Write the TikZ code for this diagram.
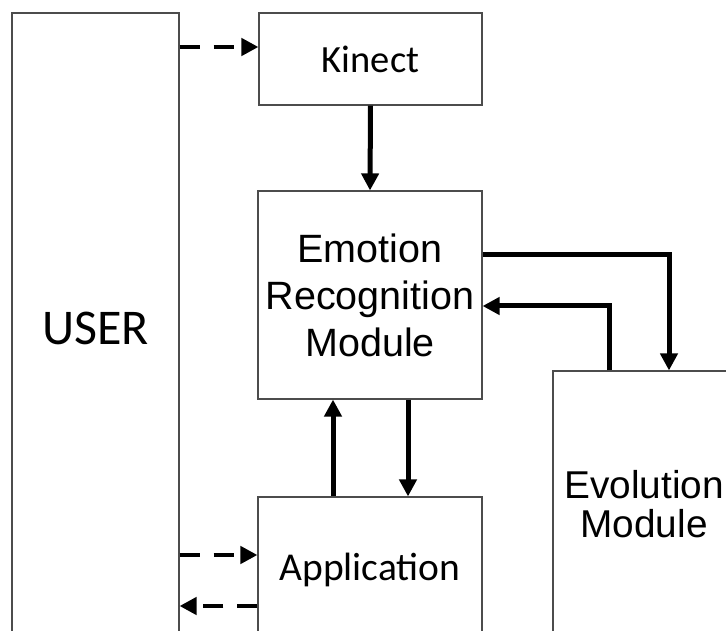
\documentclass[tikz,border=0pt]{standalone}
\usepackage{fontspec}
\setmainfont{Carlito}
\newfontfamily\arialfont{Liberation Sans}
\usetikzlibrary{arrows.meta}
\begin{document}
\begin{tikzpicture}[x=1pt,y=-1pt,>={Triangle[length=17pt,width=17pt]},line join=miter,
	box/.style={draw=black!70,line width=1.1pt,inner sep=0pt,fill=white},
	arr/.style={->,line width=5pt},
	dasharr/.style={->,line width=4.8pt,dash pattern=on 20pt off 14pt}]
			\path[use as bounding box,clip] (0,0) rectangle (726,631);
			\fill[white] (0,0) rectangle (726,631);
			\node[box,minimum width=167pt,minimum height=630pt,font=\fontsize{50}{60}\selectfont] (user) at (95.5,328) {USER};
			\node[box,minimum width=223pt,minimum height=92pt,font=\fontsize{38.5}{46}\selectfont] (kinect) at (370.5,59) {\raisebox{-4pt}{Kinect}};
			\node[box,minimum width=224pt,minimum height=208pt,align=center,font=\arialfont\fontsize{39.5}{47}\selectfont] (emotion) at (370,295) {Emotion\\Recognition\\Module};
			\node[box,minimum width=182pt,minimum height=266pt,align=center,font=\arialfont\fontsize{38.8}{38.4}\selectfont] (evolution) at (644,504) {Evolution\\Module};
			\node[box,minimum width=224pt,minimum height=146pt,font=\fontsize{39.5}{46}\selectfont] (app) at (370,570) {Application};
			\coordinate (kin) at ([yshift=12pt]kinect.west);
			\coordinate (appin) at ([yshift=15pt]app.west);
			\coordinate (appout) at ([yshift=-36pt]app.west);
			\draw[dasharr] (user.east |- kin) -- (kin);
			\draw[arr] (kinect.south) -- (emotion.north);
			\draw[arr] ([yshift=40pt]emotion.east) -| ([xshift=25pt]evolution.north);
			\draw[arr] ([xshift=-35pt]evolution.north) |- ([yshift=-11pt]emotion.east);
			\draw[arr] ([xshift=-37pt]app.north) -- ([xshift=-37pt]emotion.south);
			\draw[arr] ([xshift=38pt]emotion.south) -- ([xshift=38pt]app.north);
			\draw[dasharr] (user.east |- appin) -- (appin);
			\draw[dasharr] (appout) -- (user.east |- appout);
	\end{tikzpicture}
\end{document}
